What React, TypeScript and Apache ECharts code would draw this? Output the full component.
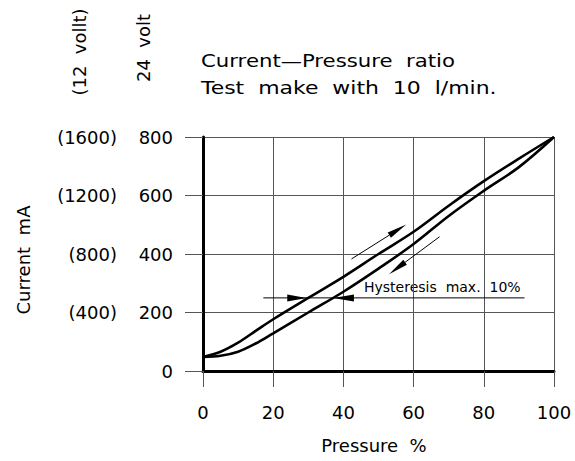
import React, { useEffect, useRef } from "react";
import * as echarts from "echarts";

// Pressure % (x) and current mA (y) for the two branches of the hysteresis loop
const pressure = [0, 5, 10, 15, 20, 30, 40, 50, 60, 70, 80, 90, 100];
const currentUpper = [48, 66, 97, 137, 177, 250, 322, 400, 476, 565, 649, 726, 800];
const currentLower = [48, 52, 66, 94, 129, 200, 271, 350, 434, 530, 616, 697, 800];

// axis ticks
const pressureTicks = [0, 20, 40, 60, 80, 100];
const currentTicks = [0, 200, 400, 600, 800];

// annotation segments in data coordinates: [x1, y1, x2, y2, kind]
// kind 0 = plain line, 1 = filled arrowhead only, 2 = thin arrow with head
const hysteresisGuide = [[17.2, 250, 91.6, 250, 0]];
const hysteresisHeads = [
  [24.0, 250, 29.5, 250, 1],
  [43.0, 250, 37.1, 250, 1],
];
const directionArrows = [
  [42.3, 383, 57.9, 501, 2],
  [67.4, 459, 53.0, 331, 2],
];

const FONT = "DejaVu Sans";

export default function App() {
  const ref = useRef<HTMLDivElement>(null);

  useEffect(() => {
    if (!ref.current) return;
    const chart = echarts.init(ref.current, null, { renderer: "svg" });

    const annotations = [...hysteresisGuide, ...hysteresisHeads, ...directionArrows];

    const renderItem = (params: any, api: any) => {
      const a = api.coord([api.value(0), api.value(1)]);
      const b = api.coord([api.value(2), api.value(3)]);
      const kind = api.value(4);
      const dx = b[0] - a[0];
      const dy = b[1] - a[1];
      const len = Math.hypot(dx, dy) || 1;
      const ux = dx / len;
      const uy = dy / len;
      const nx = -uy;
      const ny = ux;
      if (kind === 0) {
        return {
          type: "line",
          shape: { x1: a[0], y1: a[1], x2: b[0], y2: b[1] },
          style: { stroke: "#000", lineWidth: 1 },
        };
      }
      if (kind === 1) {
        const hw = 3.5;
        return {
          type: "polygon",
          shape: {
            points: [
              [b[0], b[1]],
              [a[0] + nx * hw, a[1] + ny * hw],
              [a[0] - nx * hw, a[1] - ny * hw],
            ],
          },
          style: { fill: "#000" },
        };
      }
      const hl = 20;
      const hw = 3;
      const bx = b[0] - ux * hl;
      const by = b[1] - uy * hl;
      return {
        type: "group",
        children: [
          {
            type: "line",
            shape: { x1: a[0], y1: a[1], x2: bx, y2: by },
            style: { stroke: "#000", lineWidth: 1 },
          },
          {
            type: "polygon",
            shape: {
              points: [
                [b[0], b[1]],
                [bx + nx * hw, by + ny * hw],
                [bx - nx * hw, by - ny * hw],
              ],
            },
            style: { fill: "#000" },
          },
        ],
      };
    };

    const gridColor = "#555";

    chart.setOption({
      animation: false,
      backgroundColor: "#fff",
      grid: { left: 203, right: 21, top: 137, bottom: 90, containLabel: false },
      xAxis: {
        type: "value",
        min: pressureTicks[0],
        max: pressureTicks[pressureTicks.length - 1],
        interval: pressureTicks[1] - pressureTicks[0],
        axisLine: { show: true, onZero: false, lineStyle: { color: "#000", width: 3 } },
        axisTick: { show: true, length: 16, lineStyle: { color: gridColor, width: 1 } },
        splitLine: { show: true, lineStyle: { color: gridColor, width: 1 } },
        axisLabel: { margin: 32, fontSize: 18, color: "#000", fontFamily: FONT },
      },
      yAxis: [
        {
          type: "value",
          min: currentTicks[0],
          max: currentTicks[currentTicks.length - 1],
          interval: currentTicks[1] - currentTicks[0],
          axisLine: { show: true, onZero: false, lineStyle: { color: "#000", width: 3 } },
          axisTick: { show: true, length: 18, lineStyle: { color: gridColor, width: 1 } },
          splitLine: { show: true, lineStyle: { color: gridColor, width: 1 } },
          axisLabel: { margin: 30, fontSize: 18, color: "#000", fontFamily: FONT },
        },
        {
          type: "value",
          position: "left",
          offset: 56,
          min: currentTicks[0],
          max: currentTicks[currentTicks.length - 1],
          interval: currentTicks[1] - currentTicks[0],
          axisLine: { show: false },
          axisTick: { show: false },
          splitLine: { show: false },
          axisLabel: {
            margin: 30,
            fontSize: 18,
            color: "#000",
            fontFamily: FONT,
            formatter: (v: number) => (v === 0 ? "" : `(${v * 2})`),
          },
        },
      ],
      series: [
        {
          type: "line",
          name: "upper",
          data: pressure.map((p, i) => [p, currentUpper[i]]),
          smooth: 0.35,
          showSymbol: false,
          lineStyle: { color: "#000", width: 2.6 },
          z: 5,
        },
        {
          type: "line",
          name: "lower",
          data: pressure.map((p, i) => [p, currentLower[i]]),
          smooth: 0.35,
          showSymbol: false,
          lineStyle: { color: "#000", width: 2.6 },
          z: 5,
        },
        {
          type: "custom",
          name: "annotations",
          data: annotations,
          renderItem,
          clip: false,
          encode: { x: 0, y: 1 },
          z: 6,
        },
      ],
      graphic: [
        {
          type: "text",
          x: 201,
          y: 61,
          scaleX: 1.18,
          style: {
            text: "Current\u2014Pressure  ratio",
            fontSize: 18,
            fontFamily: FONT,
            fill: "#000",
            align: "left",
            verticalAlign: "middle",
          },
        },
        {
          type: "text",
          x: 201,
          y: 88,
          scaleX: 1.22,
          style: {
            text: "Test  make  with  10  l/min.",
            fontSize: 18,
            fontFamily: FONT,
            fill: "#000",
            align: "left",
            verticalAlign: "middle",
          },
        },
        {
          type: "text",
          x: 79,
          y: 52,
          rotation: Math.PI / 2,
          style: {
            text: "(12  vollt)",
            fontSize: 18,
            fontFamily: FONT,
            fill: "#000",
            align: "center",
            verticalAlign: "middle",
          },
        },
        {
          type: "text",
          x: 143,
          y: 48,
          rotation: Math.PI / 2,
          style: {
            text: "24  volt",
            fontSize: 18,
            fontFamily: FONT,
            fill: "#000",
            align: "center",
            verticalAlign: "middle",
          },
        },
        {
          type: "text",
          x: 23,
          y: 260,
          rotation: Math.PI / 2,
          style: {
            text: "Current  mA",
            fontSize: 18,
            fontFamily: FONT,
            fill: "#000",
            align: "center",
            verticalAlign: "middle",
          },
        },
        {
          type: "text",
          x: 374,
          y: 445,
          style: {
            text: "Pressure  %",
            fontSize: 18,
            fontFamily: FONT,
            fill: "#000",
            align: "center",
            verticalAlign: "middle",
          },
        },
        {
          type: "text",
          x: 364,
          y: 287,
          style: {
            text: "Hysteresis  max.  10%",
            fontSize: 14,
            fontFamily: FONT,
            fill: "#000",
            align: "left",
            verticalAlign: "middle",
          },
        },
      ],
    });

    return () => chart.dispose();
  }, []);

  return (
    <div
      ref={ref}
      style={{ position: "absolute", left: 0, top: 0, width: 575, height: 461 }}
    />
  );
}
